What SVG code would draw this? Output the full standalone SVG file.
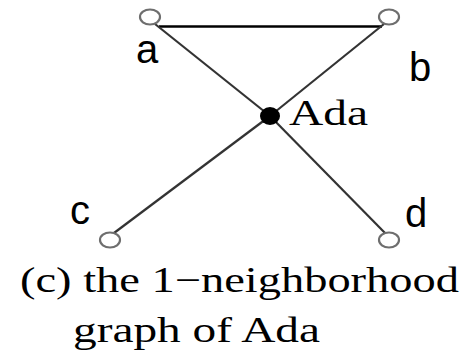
<svg xmlns="http://www.w3.org/2000/svg" width="462" height="351" viewBox="0 0 462 351">
<style>
.open{fill:#fff;stroke:#6e6e6e;stroke-width:2.2}
.dot{fill:#000;stroke:none}
.edge{stroke:#333;stroke-width:2.2;fill:none}
.top{stroke:#000;stroke-width:2.6;fill:none}
.lbl{font-family:"Liberation Sans",Arial,sans-serif;font-size:40px;fill:#000}
.ser{font-family:"Liberation Serif","Times New Roman",serif;font-size:36px;fill:#000}
</style>
<rect width="462" height="351" fill="#fff"/>
<g id="connectors">
<line class="top" x1="159" y1="26.5" x2="382" y2="26.5"/>
<line class="edge" x1="155" y1="24" x2="270" y2="116"/>
<line class="edge" x1="384" y1="24" x2="270" y2="116"/>
<line class="edge" x1="270" y1="116" x2="114" y2="233"/>
<line class="edge" x1="270" y1="116" x2="385" y2="233"/>
</g>
<g id="node-a"><ellipse class="open" cx="150" cy="17" rx="10" ry="7.5"/><text class="lbl" x="136" y="63">a</text></g>
<g id="node-b"><ellipse class="open" cx="389" cy="17" rx="10" ry="7.5"/><text class="lbl" x="409" y="81">b</text></g>
<g id="node-c"><ellipse class="open" cx="110" cy="240" rx="10" ry="7.5"/><text class="lbl" x="70" y="224">c</text></g>
<g id="node-d"><ellipse class="open" cx="389" cy="240" rx="10" ry="7.5"/><text class="lbl" x="405" y="227">d</text></g>
<g id="node-ada"><ellipse class="dot" cx="270" cy="116" rx="10" ry="9"/><text class="ser" x="289" y="125" textLength="79" lengthAdjust="spacingAndGlyphs">Ada</text></g>
<g id="caption">
<text class="ser" x="20" y="292" textLength="439" lengthAdjust="spacingAndGlyphs">(c) the 1−neighborhood</text>
<text class="ser" x="73" y="342" textLength="247" lengthAdjust="spacingAndGlyphs">graph of Ada</text>
</g>
</svg>
